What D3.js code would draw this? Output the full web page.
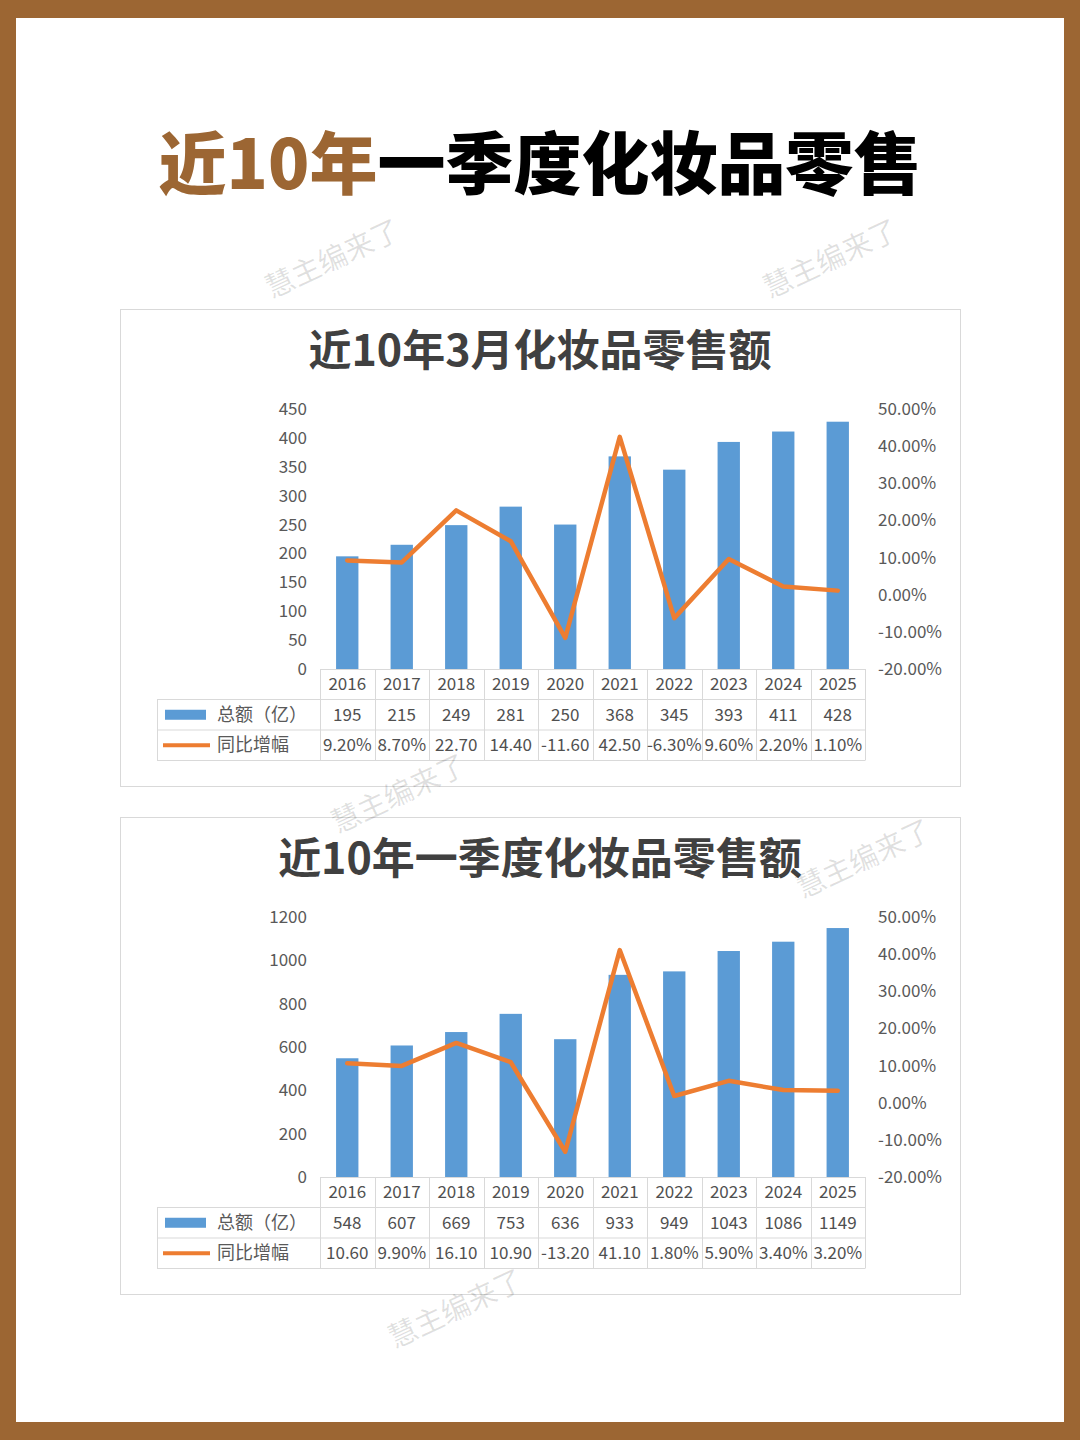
<!DOCTYPE html>
<html><head><meta charset="utf-8">
<script src="https://cdn.jsdelivr.net/npm/d3@7"></script>
<style>
html,body{margin:0;padding:0;background:#9C6633;}
svg{display:block;}
text{font-family:"Noto Sans CJK SC","Noto Sans",sans-serif;}
</style></head>
<body>
<svg id="c" width="1080" height="1440"></svg>
<script>
// ---- data ----
const years = ["2016","2017","2018","2019","2020","2021","2022","2023","2024","2025"];
const marchTotals = [195,215,249,281,250,368,345,393,411,428];
const marchYoY = [9.2,8.7,22.7,14.4,-11.6,42.5,-6.3,9.6,2.2,1.1];
const marchYoYLabels = ["9.20%","8.70%","22.70","14.40","-11.60","42.50","-6.30%","9.60%","2.20%","1.10%"];
const q1Totals = [548,607,669,753,636,933,949,1043,1086,1149];
const q1YoY = [10.6,9.9,16.1,10.9,-13.2,41.1,1.8,5.9,3.4,3.2];
const q1YoYLabels = ["10.60","9.90%","16.10","10.90","-13.20","41.10","1.80%","5.90%","3.40%","3.20%"];
const marchLeftTicks = [0,50,100,150,200,250,300,350,400,450];
const q1LeftTicks = [0,200,400,600,800,1000,1200];
const pctTicks = [-20,-10,0,10,20,30,40,50];
const seriesNames = ["总额（亿）","同比增幅"];
const mainTitleA = "近10年";
const mainTitleB = "一季度化妆品零售";
const chartTitles = ["近10年3月化妆品零售额","近10年一季度化妆品零售额"];
const watermark = "慧主编来了";

const BLUE = "#5B9BD5", ORANGE = "#ED7D31", GRID = "#D9D9D9";
const svg = d3.select("#c");

// background
svg.append("rect").attr("x",0).attr("y",0).attr("width",1080).attr("height",1440).attr("fill","#9C6633");
svg.append("rect").attr("x",16).attr("y",18).attr("width",1048).attr("height",1404).attr("fill","#fff");

// main title
const mt = svg.append("text").attr("x",540).attr("y",189).attr("text-anchor","middle")
  .attr("font-size",68).attr("font-weight",900);
mt.append("tspan").attr("fill","#9C6633").text(mainTitleA);
mt.append("tspan").attr("fill","#000").text(mainTitleB);

function drawChart(top, title, totals, yoy, yoyLabels, leftTicks, leftMax) {
  const g = svg.append("g");
  g.append("rect").attr("x",120.5).attr("y",top+0.5).attr("width",840).attr("height",477)
    .attr("fill","#fff").attr("stroke",GRID).attr("stroke-width",1);
  g.append("text").attr("x",540).attr("y",top+57).attr("text-anchor","middle")
    .attr("font-size",43).attr("font-weight",700).attr("fill","#404040").text(title);

  const plotTop = top+100, plotBottom = top+360;
  const x = d3.scaleBand().domain(years).range([320,865]).padding(0);
  const yL = d3.scaleLinear().domain([0,leftMax]).range([plotBottom,plotTop]);
  const yR = d3.scaleLinear().domain([-20,50]).range([plotBottom,plotTop]);

  // left axis
  const la = g.append("g").attr("transform",`translate(307,0)`)
    .call(d3.axisLeft(yL).tickValues(leftTicks).tickSize(0).tickPadding(0).tickFormat(d3.format("d")));
  la.select(".domain").remove();
  la.selectAll("text").attr("font-size",17).attr("fill","#595959")
    .attr("font-family","'Noto Sans CJK SC',sans-serif");
  // right axis
  const ra = g.append("g").attr("transform",`translate(878,0)`)
    .call(d3.axisRight(yR).tickValues(pctTicks).tickSize(0).tickPadding(0).tickFormat(d=>d.toFixed(2)+"%"));
  ra.select(".domain").remove();
  ra.selectAll("text").attr("font-size",17).attr("fill","#595959")
    .attr("font-family","'Noto Sans CJK SC',sans-serif");

  // bars
  const bw = x.bandwidth()*0.41;
  g.selectAll(".bar").data(totals).enter().append("rect")
    .attr("x",(d,i)=>x(years[i])+x.bandwidth()/2-bw/2)
    .attr("y",d=>yL(d)).attr("width",bw).attr("height",d=>yL(0)-yL(d))
    .attr("fill",BLUE);
  // line
  const line = d3.line().x((d,i)=>x(years[i])+x.bandwidth()/2).y(d=>yR(d));
  g.append("path").datum(yoy).attr("d",line).attr("fill","none")
    .attr("stroke",ORANGE).attr("stroke-width",4.5).attr("stroke-linejoin","round").attr("stroke-linecap","round");

  // data table
  const rowH = 30.5;
  const t0 = plotBottom;
  const tl = g.append("g").attr("stroke",GRID).attr("stroke-width",1).attr("fill","none");
  tl.append("line").attr("x1",320).attr("x2",865).attr("y1",t0+0.5).attr("y2",t0+0.5);
  for (let r=1;r<=3;r++) {
    tl.append("line").attr("x1",157).attr("x2",865).attr("y1",t0+r*rowH).attr("y2",t0+r*rowH);
  }
  tl.append("line").attr("x1",157.5).attr("x2",157.5).attr("y1",t0+rowH).attr("y2",t0+3*rowH);
  const xs = years.map(y=>x(y)).concat([865]);
  xs.forEach(v=>tl.append("line").attr("x1",Math.round(v)+0.5).attr("x2",Math.round(v)+0.5).attr("y1",t0).attr("y2",t0+3*rowH));

  const cellText = (arr,row)=>g.selectAll(null).data(arr).enter().append("text")
    .attr("x",(d,i)=>x(years[i])+x.bandwidth()/2).attr("y",t0+row*rowH+rowH/2+6)
    .attr("text-anchor","middle").attr("font-size",17).attr("fill","#505050").text(d=>d);
  cellText(years,0);
  cellText(totals.map(String),1);
  cellText(yoyLabels,2);

  // legend in table
  g.append("rect").attr("x",165).attr("y",t0+rowH+rowH/2-5).attr("width",41).attr("height",10).attr("fill",BLUE);
  g.append("text").attr("x",217).attr("y",t0+rowH+rowH/2+6).attr("font-size",18).attr("fill","#595959").text(seriesNames[0]);
  g.append("line").attr("x1",163).attr("x2",210).attr("y1",t0+2*rowH+rowH/2).attr("y2",t0+2*rowH+rowH/2)
    .attr("stroke",ORANGE).attr("stroke-width",4);
  g.append("text").attr("x",217).attr("y",t0+2*rowH+rowH/2+6).attr("font-size",18).attr("fill","#595959").text(seriesNames[1]);
}

drawChart(309, chartTitles[0], marchTotals, marchYoY, marchYoYLabels, marchLeftTicks, 450);
drawChart(817, chartTitles[1], q1Totals, q1YoY, q1YoYLabels, q1LeftTicks, 1200);

// watermarks
const wm = [[337,268],[835,268],[403,803],[868,868],[460,1318]];
svg.selectAll(".wm").data(wm).enter().append("text")
  .attr("transform",d=>`translate(${d[0]},${d[1]}) rotate(-25)`)
  .attr("text-anchor","middle").attr("font-size",29).attr("fill","#000").attr("fill-opacity",0.12)
  .text(watermark);
</script>
</body></html>
